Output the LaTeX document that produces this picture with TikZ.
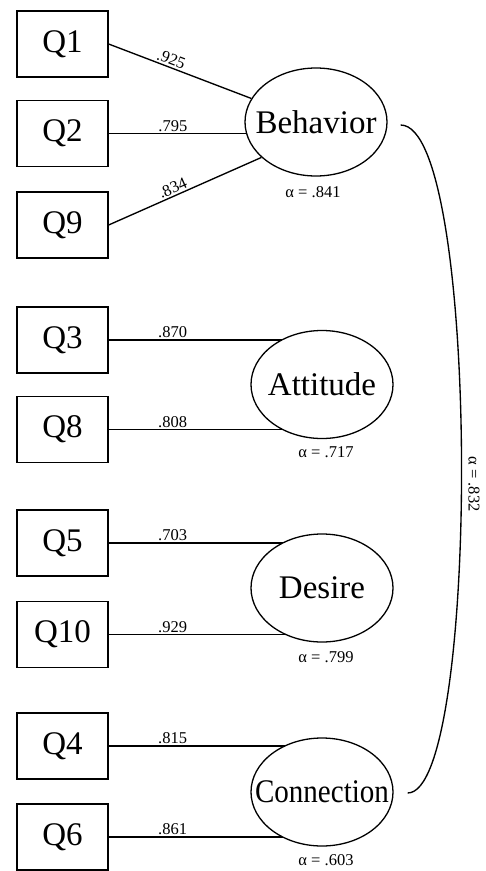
\documentclass[tikz,border=0pt]{standalone}
\usepackage{fontspec}
\setmainfont{Liberation Serif}
\usetikzlibrary{shapes.geometric,calc}
\pgfdeclarelayer{background}
\pgfsetlayers{background,main}
\begin{document}
\begin{tikzpicture}[x=1pt,y=-1pt,
 item/.style={draw, line width=1.3pt, minimum width=91pt, minimum height=66pt, inner sep=0pt, font=\fontsize{33}{33}\selectfont},
 factor/.style={draw, ellipse, fill=white, line width=1.3pt, minimum width=142pt, minimum height=108pt, inner sep=0pt, font=\fontsize{33}{33}\selectfont},
 load/.style={line width=1.35pt},
 lbl/.style={font=\fontsize{16.5}{16.5}\selectfont, inner sep=1.5pt},
 alph/.style={font=\fontsize{16.5}{16.5}\selectfont, inner sep=0pt}]
\useasboundingbox (0,0) rectangle (486,871);
% indicator boxes
\node[item] (q1) at (62.5,44) {Q1};
\node[item] (q2) at (62.5,133.5) {Q2};
\node[item] (q9) at (62.5,225) {Q9};
\node[item] (q3) at (62.5,340) {Q3};
\node[item] (q8) at (62.5,429.5) {Q8};
\node[item] (q5) at (62.5,543) {Q5};
\node[item] (q10) at (62.5,634.5) {Q10};
\node[item] (q4) at (62.5,746) {Q4};
\node[item] (q6) at (62.5,837) {Q6};
% factors
\node[factor] (beh) at (316,122) {\makebox[0pt]{Behavior}};
\node[factor] (att) at (322,384.5) {\makebox[0pt]{Attitude}};
\node[factor] (des) at (322,588) {\makebox[0pt]{Desire}};
\node[factor] (con) at (322,792) {\makebox[0pt]{\scalebox{0.88}[1]{Connection}}};
% alphas
\node[alph] (abeh) at ($(beh.south)+(-3,15)$) {α = .841};
\node[alph] (aatt) at ($(att.south)+(4,13)$) {α = .717};
\node[alph] (ades) at ($(des.south)+(4,14)$) {α = .799};
\node[alph] (acon) at ($(con.south)+(4,13)$) {α = .603};
% loadings
\begin{pgfonlayer}{background}
\draw[load] (q1.east) -- node[lbl, sloped, above, pos=0.42] {.925} (beh.160);
\draw[load] (q2.east) -- node[lbl, above, pos=0.31] {.795} (q2.east -| beh.center);
\draw[load] (q9.east) -- node[lbl, sloped, above, pos=0.44] {.834} (beh.213);
\draw[load] (q3.east) -- node[lbl, above, pos=0.30] {.870} (q3.east -| att.center);
\draw[load] (q8.east) -- node[lbl, above, pos=0.30] {.808} (q8.east -| att.center);
\draw[load] (q5.east) -- node[lbl, above, pos=0.30] {.703} (q5.east -| des.center);
\draw[load] (q10.east) -- node[lbl, above, pos=0.30] {.929} (q10.east -| des.center);
\draw[load] (q4.east) -- node[lbl, above, pos=0.30] {.815} (q4.east -| con.center);
\draw[load] (q6.east) -- node[lbl, above, pos=0.30] {.861} (q6.east -| con.center);
\end{pgfonlayer}
% correlation arc
\coordinate (arcA) at ($(beh.east)+(13,3)$);
\coordinate (arcB) at ($(con.east)+(14,1)$);
\draw[load] (arcA) .. controls ($(arcA)+(80,0)$) and ($(arcB)+(73,0)$) .. (arcB);
\node[alph, rotate=-90] (acor) at (474,484) {α = .832};
\end{tikzpicture}
\end{document}
